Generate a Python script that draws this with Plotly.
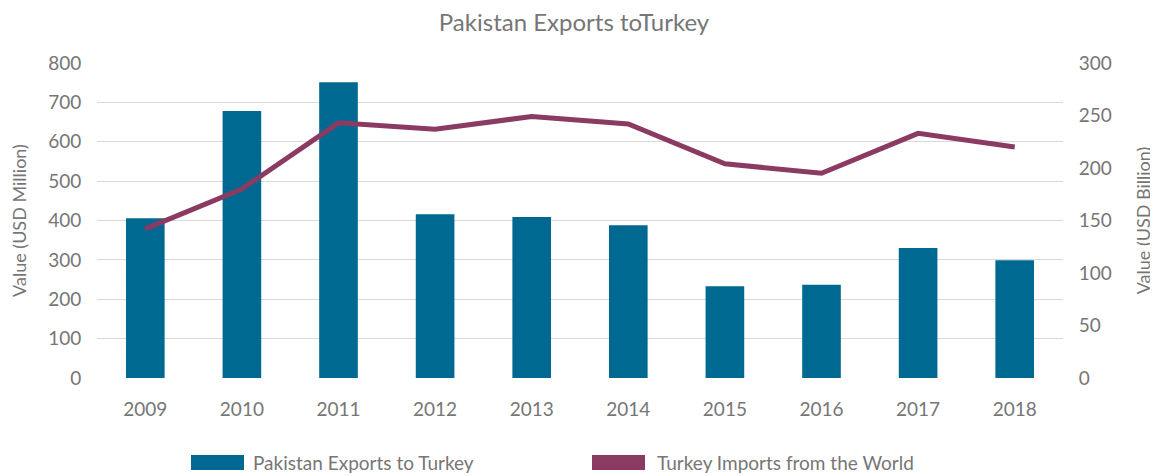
import plotly.graph_objects as go

years = ["2009", "2010", "2011", "2012", "2013", "2014", "2015", "2016", "2017", "2018"]
pak_exports = [406, 678, 751, 416, 409, 388, 233, 237, 330, 299]
turkey_imports = [142, 180, 243, 237, 249, 242, 204, 195, 233, 220]
left_ticks = [0, 100, 200, 300, 400, 500, 600, 700, 800]
right_ticks = [0, 50, 100, 150, 200, 250, 300]
series_names = ["Pakistan Exports to Turkey", "Turkey Imports from the World"]

FONT = "Lato"
GRAY = "#767676"
BAR_COLOR = "#006991"
LINE_COLOR = "#8B3A62"

# page has an 8px body margin: figure coords = page coords - 8
OFF = 8
W, H = 1158 - OFF, 476 - OFF
L, T = 97 - OFF, 63 - OFF
R = W - (1063 - OFF)
B = H - (378 - OFF)
pw, ph = W - L - R, H - T - B

def px_x(x):
    return (x - OFF - L) / pw

def px_y(y):
    return (H - B - (y - OFF)) / ph

fig = go.Figure()
fig.add_trace(go.Bar(
    x=years, y=pak_exports, name=series_names[0],
    marker=dict(color=BAR_COLOR, line=dict(width=0)),
    yaxis="y", showlegend=False,
))
fig.add_trace(go.Scatter(
    x=years, y=turkey_imports, name=series_names[1],
    mode="lines", line=dict(color=LINE_COLOR, width=5),
    yaxis="y2", showlegend=False,
))

# custom legend (wide rectangle swatches)
legend_items = [(191, 244, 251, BAR_COLOR, series_names[0]),
                (592, 645, 655, LINE_COLOR, series_names[1])]
shapes = []
annotations = []
for x0, x1, tx, col, name in legend_items:
    shapes.append(dict(type="rect", xref="paper", yref="paper",
                       x0=px_x(x0), x1=px_x(x1), y0=px_y(470), y1=px_y(455),
                       fillcolor=col, line=dict(width=0)))
    annotations.append(dict(text=name, xref="paper", yref="paper",
                            x=px_x(tx), y=px_y(462), xanchor="left", yanchor="middle",
                            showarrow=False, font=dict(size=19, color=GRAY, family=FONT)))

fig.update_layout(
    width=W, height=H,
    margin=dict(l=L, r=R, t=T, b=B),
    paper_bgcolor="white", plot_bgcolor="white",
    font=dict(family=FONT, size=19, color=GRAY),
    title=dict(text="Pakistan Exports toTurkey", x=px_x(574), xanchor="center",
               xref="paper", y=1 - (23 - OFF) / H, yanchor="middle",
               font=dict(size=24, color=GRAY, family=FONT)),
    bargap=0.6,
    showlegend=False,
    xaxis=dict(type="category", showgrid=False, showline=False, ticks="outside",
               ticklen=14, tickcolor="rgba(0,0,0,0)", automargin=False,
               tickfont=dict(size=19, color=GRAY)),
    yaxis=dict(range=[0, 800], tickvals=left_ticks, showgrid=True,
               gridcolor="#d9d9d9", gridwidth=1, zeroline=False, showline=False,
               ticks="outside", ticklen=11, tickcolor="rgba(0,0,0,0)", automargin=False,
               title=dict(text="Value (USD Million)", font=dict(size=18, color=GRAY), standoff=16),
               tickfont=dict(size=19, color=GRAY)),
    yaxis2=dict(range=[0, 300], tickvals=right_ticks, overlaying="y", side="right",
                showgrid=False, zeroline=False, showline=False,
                ticks="outside", ticklen=11, tickcolor="rgba(0,0,0,0)", automargin=False,
                title=dict(text="Value (USD Billion)", font=dict(size=18, color=GRAY), standoff=26),
                tickfont=dict(size=19, color=GRAY)),
    shapes=shapes,
    annotations=annotations,
)

fig.write_html("out.html")
